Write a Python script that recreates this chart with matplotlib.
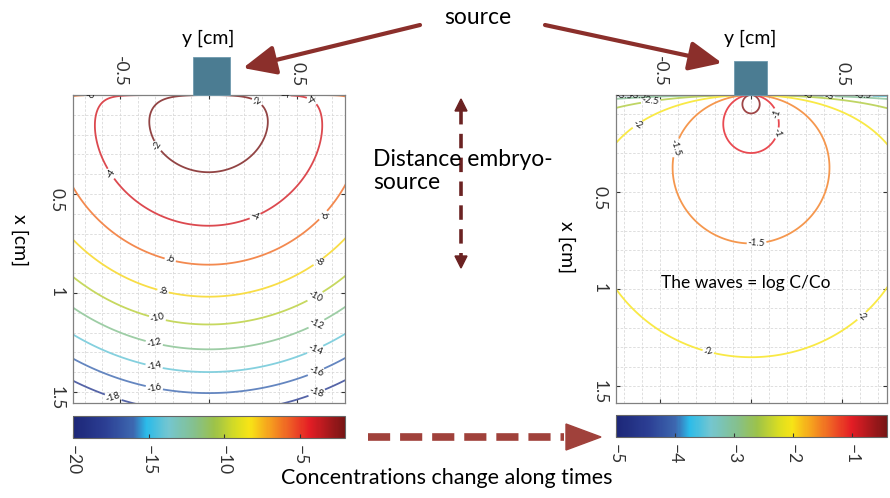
import matplotlib
matplotlib.use("Agg")
import numpy as np
import matplotlib.pyplot as plt
from matplotlib.colors import LinearSegmentedColormap, Normalize
from matplotlib.patches import Rectangle, FancyArrowPatch, Polygon
from matplotlib.lines import Line2D
from matplotlib.ticker import MultipleLocator
import matplotlib.cm as cm

plt.rcParams['font.family'] = ['Lato', 'DejaVu Sans']

# - values (log C/Co)
levels_early = [-18, -16, -14, -12, -10, -8, -6, -4, -2]
levels_late = [-5, -4.5, -4, -3.5, -3, -2.5, -2, -1.5, -1, -0.5]
crange_early = [-20, -2]
crange_late = [-5, -0.4]
cticks_early = [-20, -15, -10, -5]
cticks_late = [-5, -4, -3, -2, -1]
yticks_cm = [-0.5, 0, 0.5]
xticks_cm = [0.5, 1, 1.5]

# - field fitted to the drawn contours: logC = c0 + a*log10(x/r2) - b*r2, r2 = x^2 + k*y^2
early = dict(c0=-1.354, a=0.8, b=6.404, k=0.83)
late = dict(c0=-1.49, a=0.97, b=0.21, k=1.0)

# - where the contour labels sit (y, x) in cm
labels_early = [(-0.285, 0.255), (0.25, 0.07), (-0.54, 0.39), (0.26, 0.605), (0.43, 0.03),
                (-0.67, 0.02), (0.59, 0.02), (0.64, 0.6), (-0.22, 0.845),
                (-0.26, 1.0), (0.62, 0.84), (-0.29, 1.13), (0.61, 1.03),
                (-0.31, 1.265), (0.61, 1.155), (-0.31, 1.38), (0.61, 1.3),
                (-0.31, 1.495), (0.61, 1.405), (-0.54, 1.53), (0.61, 1.5)]
labels_late = [(0.09, 0.18), (-0.42, 0.27), (0.03, 0.755), (0.16, 0.09),
               (-0.61, 0.17), (-0.24, 1.34), (0.61, 1.14), (-0.55, 0.04),
               (-0.70, 0.005), (-0.62, 0.008), (0.31, 0.004), (0.43, 0.004), (0.615, 0.003)]

cmap = LinearSegmentedColormap.from_list("jetsoft", [
    (0.00, "#1c2677"), (0.12, "#2c3f94"), (0.22, "#3d68b0"), (0.27, "#2bbbe9"),
    (0.35, "#74c6d0"), (0.45, "#86c08a"), (0.52, "#9cc24a"), (0.60, "#d9dd22"),
    (0.65, "#f7e416"), (0.72, "#f6a21e"), (0.80, "#ee5a25"), (0.87, "#e41d25"),
    (1.00, "#771515")])

W, H = 890, 498
def fx(px): return px / W
def fy(py): return 1 - py / H

fig = plt.figure(figsize=(8.9, 4.98), dpi=100)


def soft(c, f=0.2):
    # blurry thin lines in the original look lighter than the colorbar
    return tuple((1 - f) * np.array(c[:3]) + f)


def panel(ax, cax, p, levels, crange, cticks, xlim, ylim, label_pos, src):
    yy = np.linspace(xlim[0] - 0.02, xlim[1] + 0.02, 500)
    xx = np.unique(np.concatenate([np.geomspace(1e-4, 0.1, 250), np.linspace(0.1, 1.62, 400)]))
    Y, X = np.meshgrid(yy, xx)
    r2 = X**2 + p['k'] * Y**2
    V = p['c0'] + p['a'] * np.log10(X / r2) - p['b'] * r2
    norm = Normalize(*crange)
    line_cols = [soft(cmap(norm(l))) for l in levels]
    cs = ax.contour(Y, X, V, levels=levels, colors=line_cols, linewidths=1.3, zorder=2)
    ax.clabel(cs, fmt=lambda v: f'{v:g}', fontsize=7, colors='#1a1a1a',
              inline=True, inline_spacing=1, manual=label_pos)
    ax.set_xlim(xlim)
    ax.set_ylim(ylim)
    ax.set_xticks(yticks_cm)
    ax.set_xticklabels([f'{t:g}' for t in yticks_cm])
    ax.set_yticks(xticks_cm)
    ax.set_yticklabels([f'{t:g}' for t in xticks_cm])
    ax.xaxis.set_minor_locator(MultipleLocator(0.1))
    ax.yaxis.set_minor_locator(MultipleLocator(0.1))
    ax.grid(which='both', color='#d9d9d9', lw=0.6, ls=(0, (3, 2)))
    ax.set_axisbelow(True)
    ax.tick_params(which='major', direction='in', length=3, top=True, bottom=True,
                   left=True, right=True, labeltop=True, labelbottom=False,
                   labelsize=12.5, pad=6, colors='#333333')
    ax.tick_params(axis='x', labelrotation=-90)
    ax.tick_params(axis='y', labelrotation=-90)
    ax.tick_params(which='minor', length=0)
    for s in ax.spines.values():
        s.set_color('#808080')
        s.set_linewidth(0.9)
    # source block on top of the gel
    ax.add_patch(Rectangle((src[0], src[2]), src[1] - src[0], src[3] - src[2],
                           facecolor='#4b7c92', edgecolor='#6f9aae', lw=0.6,
                           clip_on=False, zorder=10))

    sm = cm.ScalarMappable(norm=norm, cmap=cmap)
    cb = fig.colorbar(sm, cax=cax, orientation='horizontal', ticks=cticks)
    cb.ax.tick_params(direction='in', length=3, labelsize=12.5, labelrotation=-90, pad=5,
                      colors='#333333')
    cb.outline.set_edgecolor('#666666')
    cb.outline.set_linewidth(0.8)


ax1 = fig.add_axes([fx(73), fy(403), 272 / W, 308 / H])
cax1 = fig.add_axes([fx(73), fy(438), 272 / W, 22 / H])
ax2 = fig.add_axes([fx(616), fy(403), 271 / W, 308 / H])
cax2 = fig.add_axes([fx(616), fy(437), 271 / W, 22 / H])

panel(ax1, cax1, early, levels_early, crange_early, cticks_early,
      (-0.766, 0.771), (1.555, 0.0), labels_early, (-0.088, 0.121, -0.19, 0.0))
panel(ax2, cax2, late, levels_late, crange_late, cticks_late,
      (-0.742, 0.747), (1.587, 0.0), labels_late, (-0.093, 0.088, -0.173, 0.0))

# axis titles (figure is a rotated matlab plot)
for cx in (208, 750):
    fig.text(fx(cx), fy(38), 'y [cm]', ha='center', va='center', fontsize=14)
fig.text(fx(20), fy(240), 'x [cm]', ha='center', va='center', rotation=-90, fontsize=14)
fig.text(fx(567), fy(247), 'x [cm]', ha='center', va='center', rotation=-90, fontsize=14)

fig.text(fx(746), fy(283), 'The waves = log C/Co', ha='center', va='center', fontsize=12.5)
fig.text(fx(478), fy(18), 'source', ha='center', va='center', fontsize=16.5)
fig.text(fx(373), fy(171), 'Distance embryo-\nsource', ha='left', va='center',
         fontsize=16.5, linespacing=1.1)
fig.text(fx(447), fy(478), 'Concentrations change along times', ha='center', va='center',
         fontsize=15.5)

# source arrows
red = '#8b2f2b'
for a, b in [((420, 25), (243, 68)), ((545, 25), (722, 63))]:
    fig.add_artist(FancyArrowPatch((fx(a[0]), fy(a[1])), (fx(b[0]), fy(b[1])),
                                   transform=fig.transFigure, color=red, lw=3,
                                   arrowstyle='-|>,head_length=1.0,head_width=0.45',
                                   mutation_scale=20, shrinkA=0, shrinkB=0))

# distance double arrow (dashed)
dark = '#6b2222'
fig.add_artist(Line2D([fx(461), fx(461)], [fy(110), fy(257)], transform=fig.transFigure,
                      color=dark, lw=2.6, ls=(0, (4, 2.6))))
fig.add_artist(Polygon([(fx(455), fy(111)), (fx(467), fy(111)), (fx(461), fy(99))],
                       closed=True, transform=fig.transFigure, color=dark))
fig.add_artist(Polygon([(fx(455), fy(256)), (fx(467), fy(256)), (fx(461), fy(268))],
                       closed=True, transform=fig.transFigure, color=dark))

# time arrow (dashed)
red2 = '#a0413b'
fig.add_artist(Line2D([fx(368), fx(564)], [fy(437), fy(437)], transform=fig.transFigure,
                      color=red2, lw=5.5, ls=(0, (2.9, 1.3)), solid_capstyle='butt',
                      dash_capstyle='butt'))
fig.add_artist(Polygon([(fx(566), fy(424)), (fx(566), fy(450)), (fx(601), fy(437))],
                       closed=True, transform=fig.transFigure, color=red2))

fig.savefig('out.png', dpi=100)
